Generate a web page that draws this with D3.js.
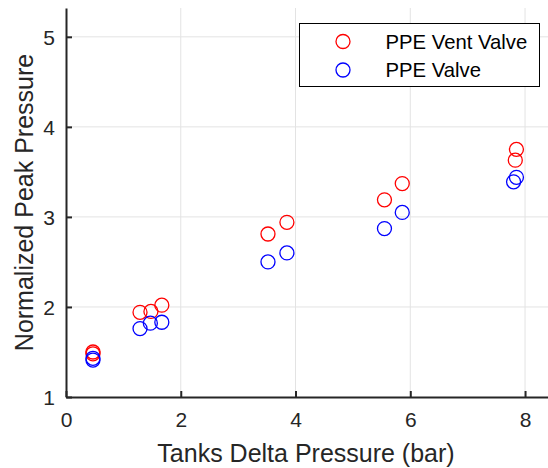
<!DOCTYPE html>
<html>
<head>
<meta charset="utf-8">
<script src="https://cdn.jsdelivr.net/npm/d3@7"></script>
<style>
  html, body { margin: 0; padding: 0; background: #fff; }
  svg { display: block; font-family: "Liberation Sans", Arial, Helvetica, sans-serif; }
</style>
</head>
<body>
<svg id="chart" width="548" height="468"></svg>
<script>
// Tank delta pressure (bar) for each test
const deltaPressureVent = [0.47, 0.47, 1.29, 1.48, 1.67, 3.52, 3.85, 5.55, 5.86, 7.83, 7.85];
const peakVent          = [1.50, 1.48, 1.94, 1.95, 2.02, 2.81, 2.94, 3.19, 3.37, 3.63, 3.75];
const deltaPressureValve = [0.47, 0.47, 1.29, 1.47, 1.67, 3.52, 3.85, 5.55, 5.86, 7.80, 7.85];
const peakValve          = [1.43, 1.41, 1.76, 1.82, 1.83, 2.50, 2.60, 2.87, 3.05, 3.39, 3.44];

const seriesNames = ["PPE Vent Valve", "PPE Valve"];
const seriesColors = ["#ff0000", "#0000ff"];

const xTicks = [0, 2, 4, 6, 8];
const yTicks = [1, 2, 3, 4, 5];
const xDomain = [0, 8.4];
const yDomain = [1, 5.32];

const xLabel = "Tanks Delta Pressure (bar)";
const yLabel = "Normalized Peak Pressure";

const svg = d3.select("#chart");
const margin = { left: 66, top: 8, right: 0, bottom: 71 };
const W = 548, H = 468;
const x = d3.scaleLinear().domain(xDomain).range([margin.left, W - margin.right]);
const y = d3.scaleLinear().domain(yDomain).range([H - margin.bottom, margin.top]);

const axisColor = "#262626";
const gridColor = "#e3e3e3";

// grid
const grid = svg.append("g");
grid.selectAll(".vx").data(xTicks.filter(d => d > xDomain[0])).join("line")
  .attr("x1", d => x(d)).attr("x2", d => x(d))
  .attr("y1", y(yDomain[0])).attr("y2", y(yDomain[1]))
  .attr("stroke", gridColor).attr("stroke-width", 1);
grid.selectAll(".hy").data(yTicks.filter(d => d > yDomain[0])).join("line")
  .attr("y1", d => y(d)).attr("y2", d => y(d))
  .attr("x1", x(xDomain[0])).attr("x2", x(xDomain[1]))
  .attr("stroke", gridColor).attr("stroke-width", 1);

// axes (ticks pointing inward)
const xAxis = d3.axisBottom(x).tickValues(xTicks).tickSizeInner(-6).tickSizeOuter(0).tickPadding(15).tickFormat(d3.format("d"));
const yAxis = d3.axisLeft(y).tickValues(yTicks).tickSizeInner(-6).tickSizeOuter(0).tickPadding(11).tickFormat(d3.format("d"));

const gx = svg.append("g").attr("transform", `translate(0,${y(yDomain[0])})`).call(xAxis);
const gy = svg.append("g").attr("transform", `translate(${x(xDomain[0])},0)`).call(yAxis);
[gx, gy].forEach(g => {
  g.select(".domain").attr("stroke", axisColor).attr("stroke-width", 2);
  g.selectAll(".tick line").attr("stroke", axisColor).attr("stroke-width", 2);
  g.selectAll(".tick text").attr("fill", axisColor).attr("font-size", 21)
    .attr("font-family", "Liberation Sans, Arial, sans-serif");
});
gx.selectAll(".tick text").attr("dy", "0.71em");
gy.selectAll(".tick text").attr("dy", "0.36em");

// axis labels
svg.append("text")
  .attr("x", 306)
  .attr("y", 461.5)
  .attr("text-anchor", "middle")
  .attr("font-size", 25)
  .attr("fill", axisColor)
  .text(xLabel);

svg.append("text")
  .attr("transform", `translate(33,${(y(yDomain[0]) + y(yDomain[1])) / 2}) rotate(-90)`)
  .attr("text-anchor", "middle")
  .attr("font-size", 25)
  .attr("fill", axisColor)
  .text(yLabel);

// markers
const r = 7;
const series = [
  { xs: deltaPressureVent, ys: peakVent, color: seriesColors[0] },
  { xs: deltaPressureValve, ys: peakValve, color: seriesColors[1] }
];
series.forEach(s => {
  svg.append("g").selectAll("circle").data(s.xs.map((v, i) => [v, s.ys[i]])).join("circle")
    .attr("cx", d => x(d[0])).attr("cy", d => y(d[1])).attr("r", r)
    .attr("fill", "none").attr("stroke", s.color).attr("stroke-width", 1.3);
});

// legend
const lg = svg.append("g");
lg.append("rect").attr("x", 299.5).attr("y", 23.5).attr("width", 240).attr("height", 63)
  .attr("fill", "#fff").attr("stroke", "#000").attr("stroke-width", 1);
seriesNames.forEach((name, i) => {
  const cy = 41.5 + i * 28.5;
  lg.append("circle").attr("cx", 343).attr("cy", cy).attr("r", r)
    .attr("fill", "none").attr("stroke", seriesColors[i]).attr("stroke-width", 1.3);
  lg.append("text").attr("x", 385.5).attr("y", cy).attr("dy", "0.36em")
    .attr("font-size", 20.3).attr("fill", "#000").text(name);
});
</script>
</body>
</html>
